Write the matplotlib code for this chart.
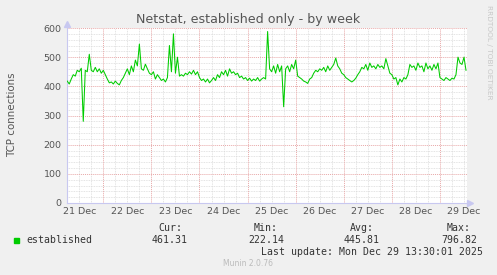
import matplotlib
matplotlib.use("Agg")
import matplotlib.pyplot as plt
import numpy as np

# ---- data ----
start_hour = 6            # hours after 21 Dec 00:00 of the first sample
step_hours = 1
values = [
    418, 408, 425, 440, 435, 455, 450, 462, 280, 455,
    450, 510, 455, 450, 465, 450, 460, 445, 455, 440,
    425, 412, 415, 408, 418, 410, 405, 420, 430, 445,
    460, 440, 470, 450, 490, 470, 545, 460, 455, 476,
    460, 445, 440, 450, 425, 440, 430, 420, 425, 415,
    430, 540, 450, 580, 445, 500, 435, 440, 435, 445,
    440, 450, 442, 455, 440, 450, 430, 420, 425, 415,
    425, 412, 420, 430, 420, 440, 430, 450, 440, 455,
    435, 460, 445, 450, 440, 445, 430, 435, 425, 430,
    420, 428, 418, 425, 420, 430, 418, 425, 430, 425,
    588, 460, 450, 470, 445, 475, 450, 470, 330, 460,
    470, 450, 475, 460, 490, 435, 430, 425, 418, 415,
    410, 425, 430, 445, 455, 450, 460, 455, 465, 450,
    470, 455, 465, 475, 497, 470, 460, 445, 440, 430,
    425, 420, 415, 420, 428, 440, 450, 465, 460, 475,
    455, 480, 465, 470, 460, 475, 465, 470, 460, 495,
    470, 445, 440, 425, 430, 405, 425, 415, 430, 425,
    440, 475, 465, 470, 455, 480, 465, 470, 450, 480,
    460, 470, 455, 475, 460, 480, 430, 425, 420, 430,
    425, 420, 428, 425, 440, 500, 480, 475, 500, 455,
]
day_labels = ["21 Dec", "22 Dec", "23 Dec", "24 Dec", "25 Dec",
              "26 Dec", "27 Dec", "28 Dec", "29 Dec"]
y_ticks = [0, 100, 200, 300, 400, 500, 600]
series_name = "established"
stat_names = ["Cur:", "Min:", "Avg:", "Max:"]
stat_values = ["461.31", "222.14", "445.81", "796.82"]

hours = start_hour + step_hours * np.arange(len(values))

# ---- figure ----
BG = "#F0F0F0"
fig = plt.figure(figsize=(4.97, 2.75), dpi=100, facecolor=BG)
ax = fig.add_axes([67/497, 72/275, 400/497, 175/275])
ax.set_facecolor("white")

x0, x1 = 5.88, 205.5
ax.set_xlim(x0, x1)
ax.set_ylim(0, 600)

dot = (0, (1, 1))
# minor grid
for h in np.arange(6, 206, 6):
    if h % 24:
        ax.axvline(h, color="#DADADA", lw=0.6, ls=dot, zorder=0)
for v in range(20, 601, 20):
    if v % 100:
        ax.axhline(v, color="#DADADA", lw=0.6, ls=dot, zorder=0)
# major grid
for h in range(24, 206, 24):
    ax.axvline(h, color="#E8A8A8", lw=0.7, ls=dot, zorder=0.5)
for v in range(100, 601, 100):
    ax.axhline(v, color="#E8A8A8", lw=0.7, ls=dot, zorder=0.5)

ax.plot(hours, values, color="#00CC00", lw=0.75, zorder=3)

# axes styling
for s in ["top", "right"]:
    ax.spines[s].set_visible(False)
for s in ["left", "bottom"]:
    ax.spines[s].set_color("#C8C8F0")
    ax.spines[s].set_linewidth(0.8)

ax.set_yticks(y_ticks)
ax.set_yticklabels([str(v) for v in y_ticks])
noon = [12 + 24*i for i in range(len(day_labels))]
ax.set_xticks(noon)
ax.set_xticklabels(day_labels)
ax.tick_params(axis="both", length=0, labelsize=6.8, labelcolor="#555555", pad=3)
ax.tick_params(axis="y", pad=4)

# axis arrows
ax.plot([0], [1.025], marker="^", color="#C8C8F0", ms=4, transform=ax.transAxes, clip_on=False)
ax.plot([1.008], [0], marker=">", color="#C8C8F0", ms=4, transform=ax.transAxes, clip_on=False)

fig.text(12/497, 1 - 115/275, "TCP connections", rotation=90,
         ha="center", va="center", fontsize=7.4, color="#555555")

fig.text(248.5/497, 1 - 19.5/275, "Netstat, established only - by week",
         ha="center", va="center", fontsize=9.1, color="#555555")
fig.text(489/497, 1 - 5/275, "RRDTOOL / TOBI OETIKER", rotation=-90,
         ha="center", va="top", fontsize=5.3, color="#C8C8C8")

# legend
mono = "DejaVu Sans Mono"
fs = 7.1
fig.patches.append(plt.Rectangle((14/497, 1 - 243/275), 5/497, 5/275,
                                 transform=fig.transFigure, color="#00CC00"))
fig.text(26/497, 1 - 240/275, series_name, family=mono, fontsize=fs,
         color="#333333", va="center", ha="left")
centers = [170, 266, 362, 459]
for cx, nm, val in zip(centers, stat_names, stat_values):
    fig.text(cx/497, 1 - 228/275, nm, family=mono, fontsize=fs,
             color="#333333", ha="center", va="center")
    fig.text(cx/497, 1 - 240/275, val, family=mono, fontsize=fs,
             color="#333333", ha="center", va="center")
fig.text(483/497, 1 - 252/275, "Last update: Mon Dec 29 13:30:01 2025",
         family=mono, fontsize=fs, color="#333333", ha="right", va="center")
fig.text(248/497, 1 - 263/275, "Munin 2.0.76", fontsize=5.5,
         color="#BBBBBB", ha="center", va="center")

fig.savefig("out.png", dpi=100, facecolor=BG)
